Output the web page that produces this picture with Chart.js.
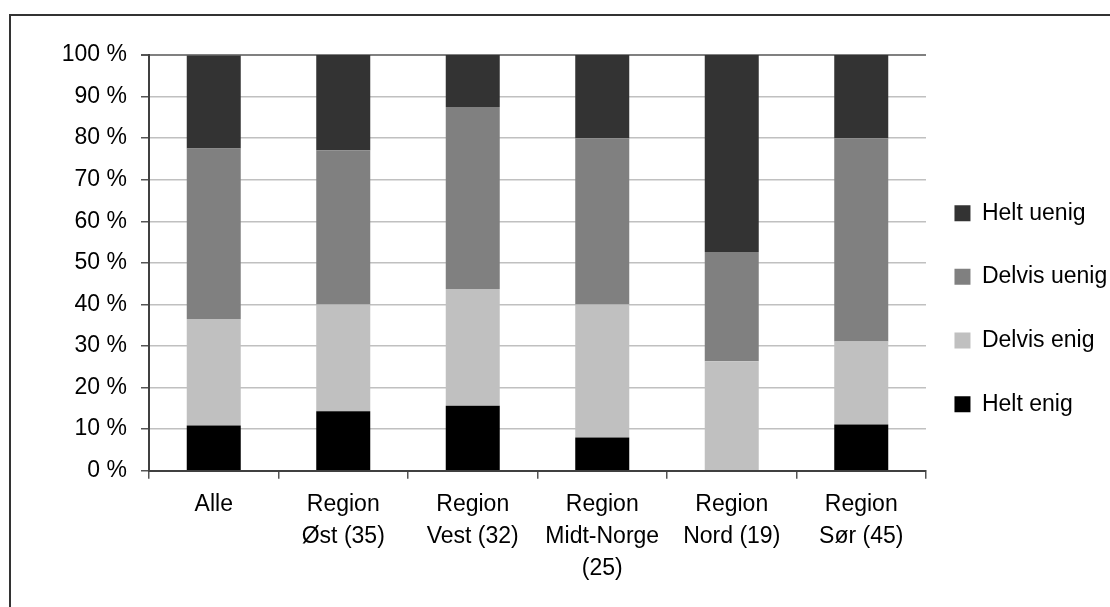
<!DOCTYPE html>
<html>
<head>
<meta charset="utf-8">
<script src="https://cdn.jsdelivr.net/npm/chart.js@4"></script>
<style>
  html, body { margin: 0; padding: 0; background: #fff; }
  #wrap { position: relative; width: 1110px; height: 607px; overflow: hidden; }
  #frame { position: absolute; left: 9px; top: 14px; width: 1200px; height: 700px;
           border-left: 2px solid #333; border-top: 2px solid #333; pointer-events: none; }
  canvas { position: absolute; left: 0; top: 0; }
</style>
</head>
<body>
<div id="wrap">
  <canvas id="c" width="1110" height="607"></canvas>
  <div id="frame"></div>
</div>
<script>
const categories = [
  ['Alle'],
  ['Region', 'Øst (35)'],
  ['Region', 'Vest (32)'],
  ['Region', 'Midt-Norge', '(25)'],
  ['Region', 'Nord (19)'],
  ['Region', 'Sør (45)']
];
const heltEnig    = [10.9, 14.3, 15.6, 8.0, 0.0, 11.1];
const delvisEnig  = [25.6, 25.7, 28.1, 32.0, 26.3, 20.0];
const delvisUenig = [41.0, 37.1, 43.8, 40.0, 26.3, 48.9];
const heltUenig   = [22.4, 22.9, 12.5, 20.0, 47.4, 20.0];
const yTicks = [0, 10, 20, 30, 40, 50, 60, 70, 80, 90, 100];

const FONT = '"Liberation Sans", Arial, sans-serif';

// Place the legend block beside the plot like the original (position/size only).
const legendPlace = {
  id: 'legendPlace',
  beforeDraw(chart) {
    const lg = chart.legend;
    if (!lg) return;
    const h = lg.height;
    lg.left = chart.chartArea.right - 12.2;
    lg.right = chart.width;
    lg.width = lg.right - lg.left;
    lg.top = 161;
    lg.bottom = lg.top + h;
  }
};

new Chart(document.getElementById('c'), {
  type: 'bar',
  data: {
    labels: categories,
    datasets: [
      { label: 'Helt enig',    data: heltEnig,    backgroundColor: '#000000' },
      { label: 'Delvis enig',  data: delvisEnig,  backgroundColor: '#c0c0c0' },
      { label: 'Delvis uenig', data: delvisUenig, backgroundColor: '#808080' },
      { label: 'Helt uenig',   data: heltUenig,   backgroundColor: '#333333' }
    ]
  },
  plugins: [legendPlace],
  options: {
    responsive: false,
    animation: false,
    datasets: { bar: { categoryPercentage: 1.0, barPercentage: 0.417, borderWidth: 0 } },
    layout: { padding: { left: 10, top: 55, right: 0, bottom: 0 } },
    plugins: {
      tooltip: { enabled: false },
      legend: {
        position: 'right',
        align: 'start',
        reverse: true,
        maxWidth: 184,
        labels: {
          boxWidth: 16,
          boxHeight: 16,
          padding: 40.67,
          color: '#000',
          font: { family: FONT, size: 23 }
        }
      }
    },
    scales: {
      x: {
        stacked: true,
        afterFit(scale) { scale.height = 136.3; },
        border: { display: true, color: '#404040', width: 2 },
        grid: {
          offset: true,
          drawOnChartArea: true,
          color: (ctx) => (ctx.index === categories.length ? '#808080' : 'rgba(0,0,0,0)'),
          tickColor: '#555555',
          tickLength: 8,
          lineWidth: 1.5
        },
        ticks: {
          autoSkip: false,
          maxRotation: 0,
          minRotation: 0,
          padding: 10.3,
          color: '#000',
          font: { family: FONT, size: 23, lineHeight: 1.391 }
        }
      },
      y: {
        stacked: true,
        min: 0,
        max: 100,
        afterFit(scale) { scale.width = 139; },
        afterBuildTicks(scale) { scale.ticks = yTicks.map(v => ({ value: v })); },
        border: { display: true, color: '#404040', width: 2 },
        grid: {
          color: (ctx) => (ctx.tick && ctx.tick.value === 100 ? '#808080' : '#c0c0c0'),
          lineWidth: (ctx) => (ctx.tick && ctx.tick.value === 100 ? 2 : 1.5),
          tickColor: '#555555',
          tickLength: 8
        },
        ticks: {
          padding: 14,
          color: '#000',
          font: { family: FONT, size: 23 },
          callback: (v) => v + ' %'
        }
      }
    }
  }
});
</script>
</body>
</html>
